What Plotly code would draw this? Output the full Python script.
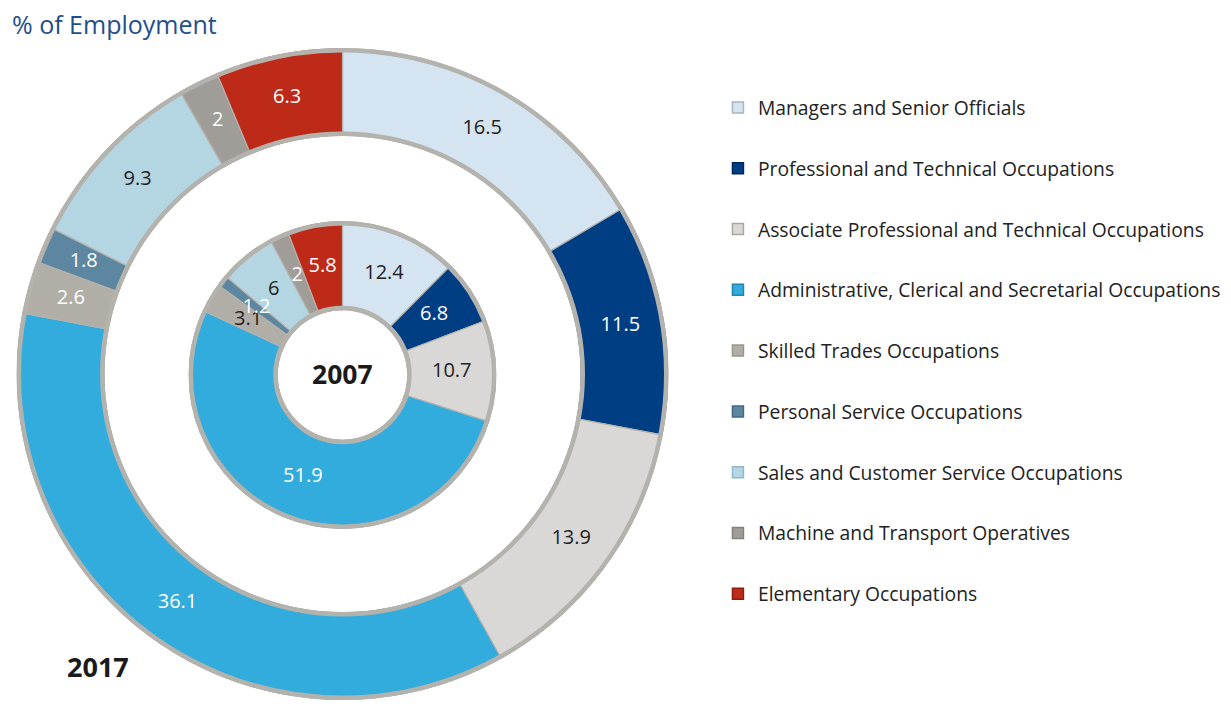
import plotly.graph_objects as go

# occupation groups, in the order they run clockwise from 12 o'clock
occupations = [
    "Managers and Senior Officials",
    "Professional and Technical Occupations",
    "Associate Professional and Technical Occupations",
    "Administrative, Clerical and Secretarial Occupations",
    "Skilled Trades Occupations",
    "Personal Service Occupations",
    "Sales and Customer Service Occupations",
    "Machine and Transport Operatives",
    "Elementary Occupations",
]

share_2017 = [16.5, 11.5, 13.9, 36.1, 2.6, 1.8, 9.3, 2, 6.3]
share_2007 = [12.4, 6.8, 10.7, 51.9, 3.1, 1.2, 6, 2, 5.8]

colors = ["#d4e4f1", "#003e84", "#d9d8d6", "#32acdc", "#b1aea8",
          "#5d87a1", "#b4d6e3", "#a09c97", "#bd2b18"]
edge_colors = ["#a9b4bd", "#00265a", "#a8a7a4", "#1f86b3", "#9a968f",
               "#3f6a85", "#8fb9c9", "#85817b", "#8e1d10"]
label_colors_2017 = ["#222", "#fff", "#222", "#fff", "#fff", "#fff", "#222", "#fff", "#fff"]
label_colors_2007 = ["#222", "#fff", "#222", "#fff", "#222", "#fff", "#222", "#fff", "#fff"]

RING_GREY = "#b4b2ad"
FONT = "Open Sans"

# the page body adds an 8px margin, so the figure is 8px smaller than the window
W, H = 1223, 696
OUTER_DOMAIN = dict(x=[0.00695, 0.5401], y=[0.00575, 0.9425])
INNER_DOMAIN = dict(x=[0.1476, 0.3994], y=[0.2514, 0.6940])
OUTER_HOLE = 0.73
INNER_HOLE = 0.42


def slice_angles(values):
    total = sum(values)
    widths = [360 * v / total for v in values]
    mids = []
    run = 0
    for w in widths:
        mids.append(run + w / 2)
        run += w
    return mids, widths


def ring_traces(values, text_colors, year, subplot):
    mids, widths = slice_angles(values)
    slices = go.Barpolar(
        r=[1] * len(values),
        theta=mids,
        width=widths,
        base=0,
        name=year,
        customdata=occupations,
        hovertemplate="%{customdata}<br>" + year + ": %{text}%<extra></extra>",
        text=[f"{v:g}" for v in values],
        marker=dict(color=colors, line=dict(color=RING_GREY, width=1.2)),
        subplot=subplot,
        showlegend=False,
    )
    # one full-circle bar, drawn only for its grey rims
    # (the polar clip cuts the outer half of the line away)
    rim = go.Barpolar(
        r=[1], theta=[0], width=[360], base=0,
        marker=dict(color="rgba(0,0,0,0)", line=dict(color=RING_GREY, width=9)),
        hoverinfo="skip",
        subplot=subplot,
        showlegend=False,
    )
    labels = go.Scatterpolar(
        r=[0.5] * len(values),
        theta=mids,
        text=[f"{v:g}" for v in values],
        mode="text",
        textfont=dict(family=FONT, size=20, color=text_colors),
        hoverinfo="skip",
        subplot=subplot,
        showlegend=False,
    )
    return [slices, rim, labels]


fig = go.Figure()
fig.add_traces(ring_traces(share_2017, label_colors_2017, "2017", "polar"))
fig.add_traces(ring_traces(share_2007, label_colors_2007, "2007", "polar2"))

# legend entries as empty square markers so the spacing can be set
for occ, col, edge in zip(occupations, colors, edge_colors):
    fig.add_trace(go.Scatterpolar(
        r=[None], theta=[None], mode="markers", name=occ, legendgroup=occ,
        subplot="polar",
        marker=dict(symbol="square", size=11, color=col, line=dict(color=edge, width=1.5)),
    ))

polar_common = dict(
    bgcolor="rgba(0,0,0,0)",
    barmode="overlay",
    radialaxis=dict(range=[0, 1], visible=False),
    angularaxis=dict(rotation=90, direction="clockwise", visible=False),
)

fig.update_layout(
    width=W,
    height=H,
    margin=dict(l=0, r=0, t=0, b=0),
    paper_bgcolor="white",
    font=dict(family=FONT, color="#222"),
    polar=dict(domain=OUTER_DOMAIN, hole=OUTER_HOLE, **polar_common),
    polar2=dict(domain=INNER_DOMAIN, hole=INNER_HOLE, **polar_common),
    legend=dict(
        x=0.5805, y=0.8845, xanchor="left", yanchor="top",
        traceorder="grouped", tracegroupgap=32.7,
        font=dict(family=FONT, size=19.3, color="#222"),
        itemclick=False, itemdoubleclick=False,
    ),
    annotations=[
        dict(text="% of Employment", x=0.0016, y=1.0, xref="paper", yref="paper",
             xanchor="left", yanchor="top", yshift=3, showarrow=False,
             font=dict(family=FONT, size=25, color="#1f4e8d")),
        dict(text="<b>2017</b>", x=0.0466, y=0.0532, xref="paper", yref="paper",
             xanchor="left", yanchor="middle", showarrow=False,
             font=dict(family=FONT, size=27, color="#1a1a1a")),
        dict(text="<b>2007</b>", x=0.2731, y=0.4741, xref="paper", yref="paper",
             xanchor="center", yanchor="middle", showarrow=False,
             font=dict(family=FONT, size=26.5, color="#1a1a1a")),
    ],
)

fig.write_html("out.html")
